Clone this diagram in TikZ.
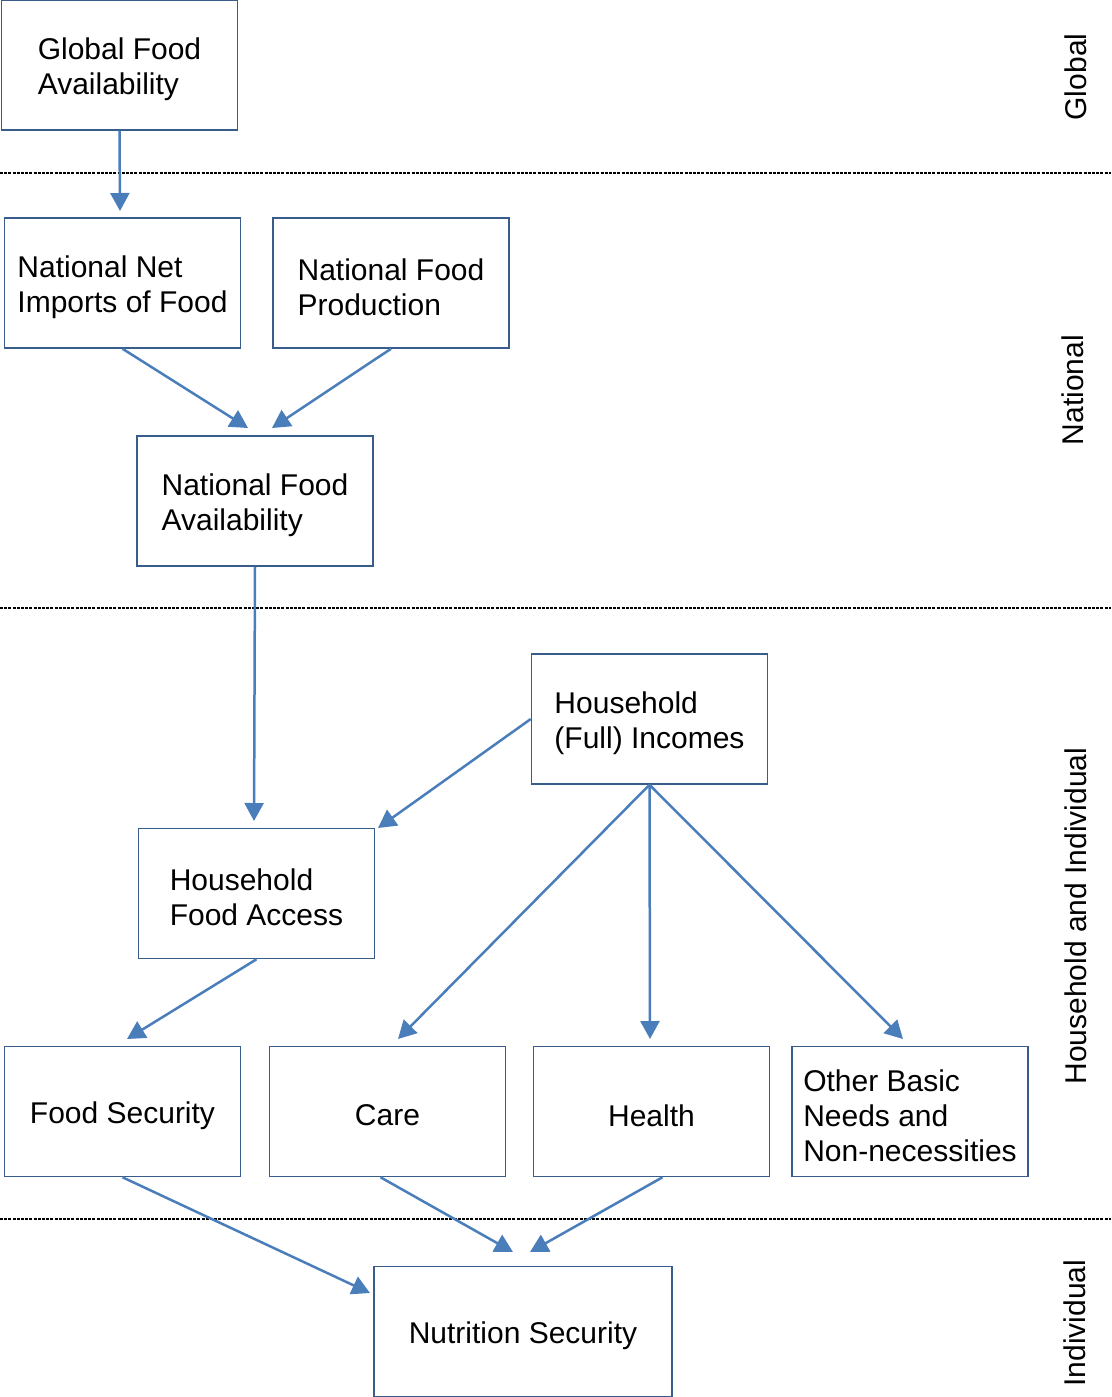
\documentclass[tikz,border=0pt]{standalone}
\usepackage{fontspec}
\setmainfont{Liberation Sans}
\usetikzlibrary{arrows.meta,calc}
\definecolor{boxcol}{RGB}{56,93,138}
\definecolor{arrcol}{RGB}{74,126,187}
\begin{document}
\begin{tikzpicture}[x=1pt,y=-1pt,
  box/.style={draw=boxcol,line width=1.5pt,rectangle,minimum width=236pt,minimum height=130pt,
    inner sep=0pt},
  txt/.style={align=left,inner sep=0pt,font=\fontsize{30}{35}\selectfont},
  arr/.style={draw=arrcol,line width=2.5pt,-{Triangle[length=18pt,width=19pt]}},
  sep/.style={draw=black,line width=2.8pt,dash pattern=on 3pt off 1.2pt},
  side/.style={rotate=90,font=\fontsize{30}{35}\selectfont,inner sep=0pt}]
\useasboundingbox (0,0) rectangle (1111,1397);
% separators
\coordinate (s1a) at (0,173); \coordinate (s1b) at (1111,173);
\coordinate (s2a) at (0,608); \coordinate (s2b) at (1111,608);
\coordinate (s3a) at (0,1219); \coordinate (s3b) at (1111,1219);
\draw[sep] (s1a) -- (s1b);
\draw[sep] (s2a) -- (s2b);
\draw[sep] (s3a) -- (s3b);
% boxes
\node[box,fill=white,label={[txt,yshift=-4pt]center:Global Food\\Availability}] (gfa) at (119.5,65) {};
\node[box,label={[txt,yshift=-4pt]center:National Net\\Imports of Food}] (nni) at (122.5,283) {};
\node[box,label={[txt,yshift=-4pt]center:National Food\\Production}] (nfp) at (391,283) {};
\node[box,label={[txt,yshift=-4pt]center:National Food\\Availability}] (nfa) at (255,501) {};
\node[box,label={[txt,yshift=-4pt]center:Household\\(Full) Incomes}] (hfi) at (649.5,719) {};
\node[box,label={[txt,yshift=-4pt]center:Household\\Food Access}] (hfa) at (256.5,893.5) {};
\node[box,label={[txt,yshift=-4pt]center:Food Security}] (fs) at (122.5,1111.5) {};
\node[box,label={[txt,yshift=-4pt]center:Care}] (care) at (387.5,1111.5) {};
\node[box,label={[txt,yshift=-4pt]center:Health}] (health) at (651.5,1111.5) {};
\node[box,label={[txt,yshift=-4pt]center:Other Basic\\Needs and\\Non-necessities}] (other) at (910,1111.5) {};
\node[box,minimum width=298pt,label={[txt,yshift=-4pt]center:Nutrition Security}] (ns) at (523,1331.5) {};
% side labels
\node[side] (lg) at (1076,77) {Global};
\node[side] (ln) at (1073,390) {National};
\node[side] (lh) at (1076,916) {Household and Individual};
\node[side] (li) at (1075,1323) {Individual};
% arrow tips
\coordinate (t0) at (120,211);
\coordinate (t1) at (248,428);
\coordinate (t2) at (272,428);
\coordinate (t3) at (254,821);
\coordinate (t4) at (378,828);
\coordinate (t5) at (398,1039);
\coordinate (t6) at (650,1039);
\coordinate (t7) at (903,1039);
\coordinate (t8) at (127,1039);
\coordinate (t9) at (370,1293);
\coordinate (t10) at (513,1252);
\coordinate (t11) at (530,1252);
% arrows
\draw[arr] (gfa.south) -- (t0);
\draw[arr] (nni.south) -- (t1);
\draw[arr] (nfp.south) -- (t2);
\draw[arr] (nfa.south) -- (t3);
\draw[arr] (hfi.west) -- (t4);
\draw[arr] (hfi.south) -- (t5);
\draw[arr] (hfi.south) -- (t6);
\draw[arr] (hfi.south) -- (t7);
\draw[arr] (hfa.south) -- (t8);
\draw[arr] (fs.south) -- (t9);
\draw[arr] ($(care.south)+(-7,0)$) -- (t10);
\draw[arr] ($(health.south)+(11,0)$) -- (t11);
\end{tikzpicture}
\end{document}
